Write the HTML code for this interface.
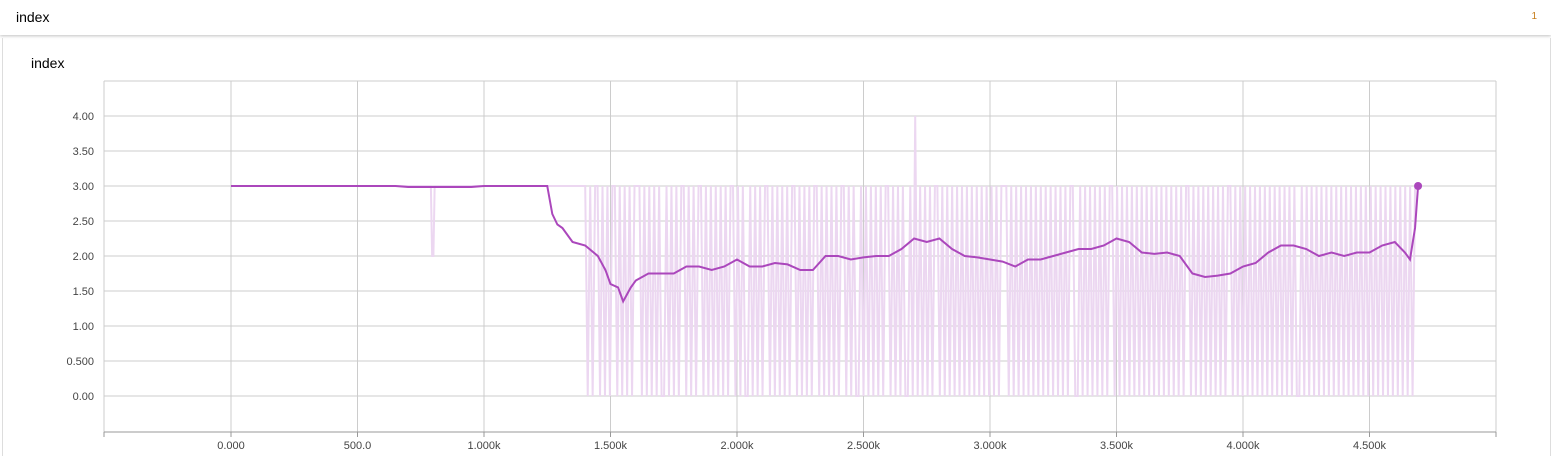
<!DOCTYPE html>
<html><head><meta charset="utf-8"><style>
body{margin:0;width:1551px;height:456px;background:#fff;font-family:"Liberation Sans",sans-serif;overflow:hidden;position:relative}
#hdr{position:absolute;left:0;top:0;width:1551px;height:35px;background:#fff;box-shadow:0 1px 3px rgba(0,0,0,.25);}
#htitle{position:absolute;left:16px;top:9px;font-size:14px;color:#000}
#cnt{position:absolute;right:14px;top:11px;font-size:10px;color:#c77d1b}
#card{position:absolute;left:2px;top:38px;width:1547px;height:418px;border-left:1px solid #ddd;border-right:1px solid #ddd}
#ttl{position:absolute;left:31px;top:55px;font-size:14px;color:#000}
svg{position:absolute;left:0;top:0}
text{font-family:"Liberation Sans",sans-serif;font-size:11px;fill:#444}
</style></head><body>
<div id="hdr"><span id="htitle">index</span><span id="cnt">1</span></div>
<div id="card"></div>
<div id="ttl">index</div>
<svg id="chart" width="1551" height="456"></svg>
<script>
const yTicks=[0,0.5,1,1.5,2,2.5,3,3.5,4];
const yTickLabels=["0.00","0.500","1.00","1.50","2.00","2.50","3.00","3.50","4.00"];
const xTicks=[0,500,1000,1500,2000,2500,3000,3500,4000,4500];
const xTickLabels=["0.000","500.0","1.000k","1.500k","2.000k","2.500k","3.000k","3.500k","4.000k","4.500k"];
const smoothSteps=[0,650,700,950,1000,1250,1270,1290,1310,1350,1400,1450,1480,1500,1530,1550,1580,1600,1650,1700,1750,1800,1850,1900,1950,2000,2050,2100,2150,2200,2250,2300,2350,2400,2450,2500,2550,2600,2650,2700,2750,2800,2850,2900,2950,3000,3050,3100,3150,3200,3250,3300,3350,3400,3450,3500,3550,3600,3650,3700,3750,3800,3850,3900,3950,4000,4050,4100,4150,4200,4250,4300,4350,4400,4450,4500,4550,4600,4640,4660,4680,4692];
const smoothVals=[3,3,2.985,2.985,3,3,2.6,2.45,2.4,2.2,2.15,2.0,1.8,1.6,1.55,1.35,1.55,1.65,1.75,1.75,1.75,1.85,1.85,1.8,1.85,1.95,1.85,1.85,1.9,1.88,1.8,1.8,2.0,2.0,1.95,1.98,2.0,2.0,2.1,2.25,2.2,2.25,2.1,2.0,1.98,1.95,1.92,1.85,1.95,1.95,2.0,2.05,2.1,2.1,2.15,2.25,2.2,2.05,2.03,2.05,2.0,1.75,1.7,1.72,1.75,1.85,1.9,2.05,2.15,2.15,2.1,2.0,2.05,2.0,2.05,2.05,2.15,2.2,2.05,1.95,2.4,3.0];
const rawEarlySteps=[0,790,795,800,805,1400];
const rawEarlyVals=[3,3,2,2,3,3];
const rawStart=1410, rawEnd=4680;
const rawPattern="0303303030330303030333030303030030303033030303303030303030330303003030303303030303033030303033030303030330303003030303030330303030030303030303303030303030303030303030303330303030303030303030303030330030303030303033030303030303030303030303030303303030303030303033030303030303030303030303030030303030303030303030303030303030303030303030303";
const spikeStep=2700, spikeVal=4;
const NS="http://www.w3.org/2000/svg",svg=document.getElementById('chart');
const X0=231,PX=126.5/500,Y0=396,PY=70;
const xs=s=>X0+s*PX, ys=v=>Y0-v*PY;
function mk(t,a){const e=document.createElementNS(NS,t);for(const k in a)e.setAttribute(k,a[k]);svg.appendChild(e);return e;}
yTicks.forEach((v,i)=>{const l=mk('line',{x1:104,x2:1496,y1:ys(v),y2:ys(v),stroke:'#ccc','stroke-width':1});


const t=mk('text',{x:94,y:ys(v)+4,'text-anchor':'end'});t.textContent=yTickLabels[i];

});
xTicks.forEach((v,i)=>{const l=mk('line',{x1:xs(v),x2:xs(v),y1:81,y2:432,stroke:'#ccc','stroke-width':1});


mk('line',{x1:xs(v),x2:xs(v),y1:432,y2:437,stroke:'#999'});
const t=mk('text',{x:xs(v),y:449,'text-anchor':'middle'});t.textContent=xTickLabels[i];

});
mk('line',{x1:104,x2:1496,y1:81,y2:81,stroke:'#ccc'});
mk('line',{x1:104,x2:104,y1:81,y2:432,stroke:'#ccc'});
mk('line',{x1:1496,x2:1496,y1:81,y2:432,stroke:'#ccc'});
const ax=mk('line',{x1:104,x2:1496,y1:432,y2:432,stroke:'#999'});


mk('line',{x1:104,x2:104,y1:432,y2:437,stroke:'#999'});
mk('line',{x1:1496,x2:1496,y1:432,y2:437,stroke:'#999'});
let pts=rawEarlySteps.map((s,i)=>xs(s)+','+ys(rawEarlyVals[i]));
const n=rawPattern.length, iv=(rawEnd-rawStart)/(n-1);
for(let i=0;i<n;i++){let s=rawStart+i*iv;let v=+rawPattern[i];
if(Math.abs(s-spikeStep)<iv/2)v=spikeVal;pts.push(xs(s)+','+ys(v));}
pts.push(xs(4692)+','+ys(3));
const raw=mk('polyline',{points:pts.join(' '),fill:'none',stroke:'#ecd7f1','stroke-width':2});


const sm=mk('polyline',{points:smoothSteps.map((s,i)=>xs(s)+','+ys(smoothVals[i])).join(' '),fill:'none',stroke:'#ab47bc','stroke-width':2});


const dot=mk('circle',{cx:xs(smoothSteps[smoothSteps.length-1]),cy:ys(smoothVals[smoothVals.length-1]),r:4,fill:'#ab47bc'});


</script>
</body></html>
